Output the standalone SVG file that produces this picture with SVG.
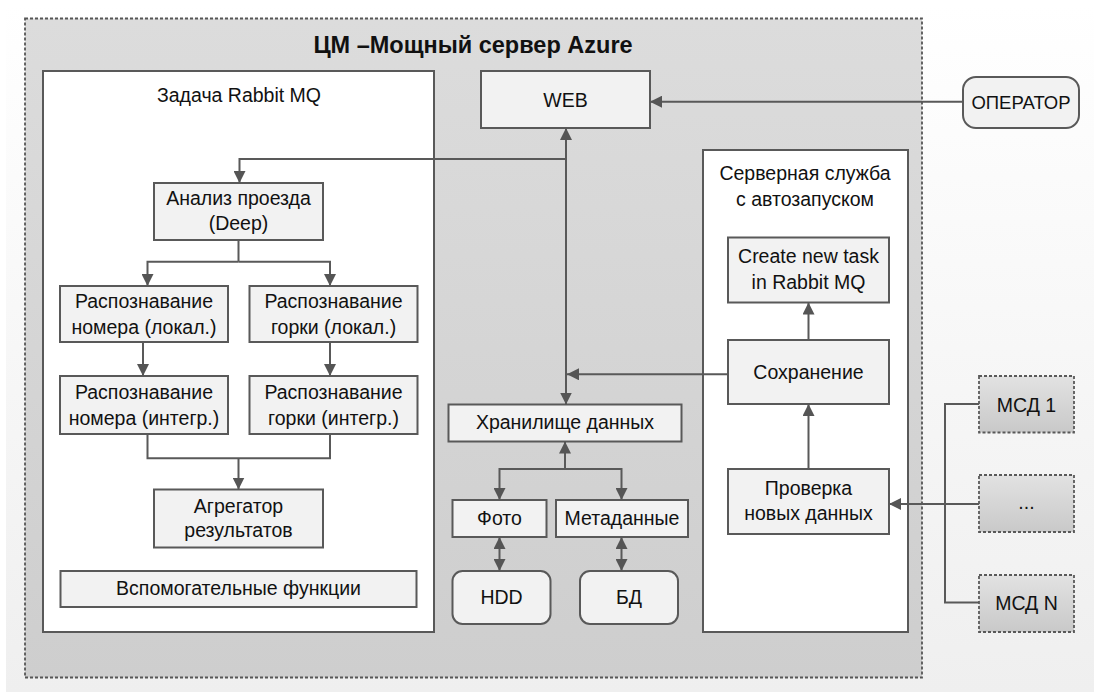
<svg xmlns="http://www.w3.org/2000/svg" width="1094" height="693" viewBox="0 0 1094 693">
<defs>
<linearGradient id="bg" x1="0" y1="0" x2="0" y2="1"><stop offset="0" stop-color="#ffffff"/><stop offset="1" stop-color="#efefef"/></linearGradient>
<linearGradient id="cont" x1="0" y1="0" x2="0" y2="1"><stop offset="0" stop-color="#dcdcdc"/><stop offset="1" stop-color="#cecece"/></linearGradient>
<linearGradient id="msd" x1="0" y1="0" x2="0" y2="1"><stop offset="0" stop-color="#e2e2e2"/><stop offset="1" stop-color="#c9c9c9"/></linearGradient>
<marker id="ah" markerUnits="userSpaceOnUse" markerWidth="12" markerHeight="12" viewBox="0 0 12 12" refX="12" refY="6" orient="auto-start-reverse"><path d="M0,0 L12,6 L0,12 z" fill="#555"/></marker>
<style>
.t{font-family:"Liberation Sans",Arial,sans-serif;font-size:19.5px;fill:#111;text-anchor:middle}
.box{fill:#f2f2f2;stroke:#595959;stroke-width:2}
.panel{fill:#ffffff;stroke:#595959;stroke-width:2}
.msd{fill:url(#msd);stroke:#595959;stroke-width:1.8;stroke-dasharray:3 2}
.c{fill:none;stroke:#595959;stroke-width:2}
</style>
</defs>
<rect x="6" y="4" width="1088" height="688" fill="url(#bg)"/>
<g id="container">
<rect x="25" y="18.5" width="897" height="659" fill="url(#cont)" stroke="#555" stroke-width="1.8" stroke-dasharray="3 2"/>
<text class="t" x="473" y="53" style="font-weight:bold;font-size:23.5px">ЦМ –Мощный сервер Azure</text>
</g>
<g id="rabbit-panel">
<rect class="panel" x="43" y="71" width="391" height="561"/>
<text class="t" x="239" y="102">Задача Rabbit MQ</text>
</g>
<g id="service-panel">
<rect class="panel" x="703" y="150" width="205" height="482"/>
<text class="t" x="805" y="180">Серверная служба</text>
<text class="t" x="805" y="206">с автозапуском</text>
</g>
<g id="web"><rect class="box" x="481" y="71" width="169" height="57"/><text class="t" x="565.5" y="107">WEB</text></g>
<g id="operator"><rect class="box" x="963" y="77" width="116" height="51" rx="13"/><text class="t" x="1021" y="109" style="font-size:18.5px">ОПЕРАТОР</text></g>
<g id="analiz"><rect class="box" x="154" y="183" width="169" height="57"/><text class="t" x="238.5" y="205">Анализ проезда</text><text class="t" x="238.5" y="230">(Deep)</text></g>
<g id="nomer-lok"><rect class="box" x="60" y="286" width="168" height="56"/><text class="t" x="144" y="308">Распознавание</text><text class="t" x="144" y="334">номера (локал.)</text></g>
<g id="gorka-lok"><rect class="box" x="249.5" y="286" width="168" height="56"/><text class="t" x="333.5" y="308">Распознавание</text><text class="t" x="333.5" y="334">горки (локал.)</text></g>
<g id="nomer-int"><rect class="box" x="60" y="376" width="168" height="58"/><text class="t" x="144" y="399">Распознавание</text><text class="t" x="144" y="425">номера (интегр.)</text></g>
<g id="gorka-int"><rect class="box" x="249.5" y="376" width="168" height="58"/><text class="t" x="333.5" y="399">Распознавание</text><text class="t" x="333.5" y="425">горки (интегр.)</text></g>
<g id="agregator"><rect class="box" x="154" y="489.5" width="169" height="58"/><text class="t" x="238.5" y="513">Агрегатор</text><text class="t" x="238.5" y="537">результатов</text></g>
<g id="vspom"><rect class="box" x="60.5" y="571" width="356" height="36"/><text class="t" x="238.5" y="595">Вспомогательные функции</text></g>
<g id="hranilishe"><rect class="box" x="448.5" y="404.5" width="233" height="37"/><text class="t" x="565" y="429">Хранилище данных</text></g>
<g id="foto"><rect class="box" x="452.5" y="500" width="94" height="37"/><text class="t" x="499.5" y="524.5">Фото</text></g>
<g id="meta"><rect class="box" x="556" y="500" width="132" height="37"/><text class="t" x="622" y="524.5">Метаданные</text></g>
<g id="hdd"><rect class="box" x="452.5" y="571" width="98" height="53" rx="10"/><text class="t" x="501.5" y="604">HDD</text></g>
<g id="bd"><rect class="box" x="580" y="571" width="98" height="53" rx="10"/><text class="t" x="629" y="604">БД</text></g>
<g id="create"><rect class="box" x="728" y="237.5" width="161" height="65"/><text class="t" x="808.5" y="263">Create new task</text><text class="t" x="808.5" y="288.5">in Rabbit MQ</text></g>
<g id="sohranenie"><rect class="box" x="728" y="340" width="161" height="64"/><text class="t" x="808.5" y="378.5">Сохранение</text></g>
<g id="proverka"><rect class="box" x="728" y="469" width="161" height="65"/><text class="t" x="808.5" y="494.5">Проверка</text><text class="t" x="808.5" y="520">новых данных</text></g>
<g id="msd1"><rect class="msd" x="979" y="376" width="95" height="56.5"/><text class="t" x="1026.5" y="412">МСД 1</text></g>
<g id="msddots"><rect class="msd" x="979" y="475" width="95" height="57"/><text class="t" x="1026.5" y="509">...</text></g>
<g id="msdn"><rect class="msd" x="979" y="575" width="95" height="57"/><text class="t" x="1026.5" y="610">МСД N</text></g>
<g id="connectors">
<path class="c" d="M963,101.7 H650" marker-end="url(#ah)"/>
<path class="c" d="M566,404.5 V128" marker-start="url(#ah)" marker-end="url(#ah)"/>
<path class="c" d="M566,159 H239.5 V183" marker-end="url(#ah)"/>
<path class="c" d="M728,374.3 H567" marker-end="url(#ah)"/>
<path class="c" d="M808.5,340 V302.5" marker-end="url(#ah)"/>
<path class="c" d="M808.5,469 V404" marker-end="url(#ah)"/>
<path class="c" d="M979,404 H945 V602.5 H979"/>
<path class="c" d="M979,504 H889" marker-end="url(#ah)"/>
<path class="c" d="M238.5,240 V261.7"/>
<path class="c" d="M238.5,261.7 H147.5 V286" marker-end="url(#ah)"/>
<path class="c" d="M238.5,261.7 H330 V286" marker-end="url(#ah)"/>
<path class="c" d="M143,342 V376" marker-end="url(#ah)"/>
<path class="c" d="M330,342 V376" marker-end="url(#ah)"/>
<path class="c" d="M147.5,434 V458.3 H330 V434"/>
<path class="c" d="M238.5,458.3 V489.5" marker-end="url(#ah)"/>
<path class="c" d="M565,469 V441.5" marker-end="url(#ah)"/>
<path class="c" d="M565,469 H499.5 V500" marker-end="url(#ah)"/>
<path class="c" d="M565,469 H621.5 V500" marker-end="url(#ah)"/>
<path class="c" d="M499.5,537 V571" marker-start="url(#ah)" marker-end="url(#ah)"/>
<path class="c" d="M621.5,537 V571" marker-start="url(#ah)" marker-end="url(#ah)"/>
</g>
</svg>
